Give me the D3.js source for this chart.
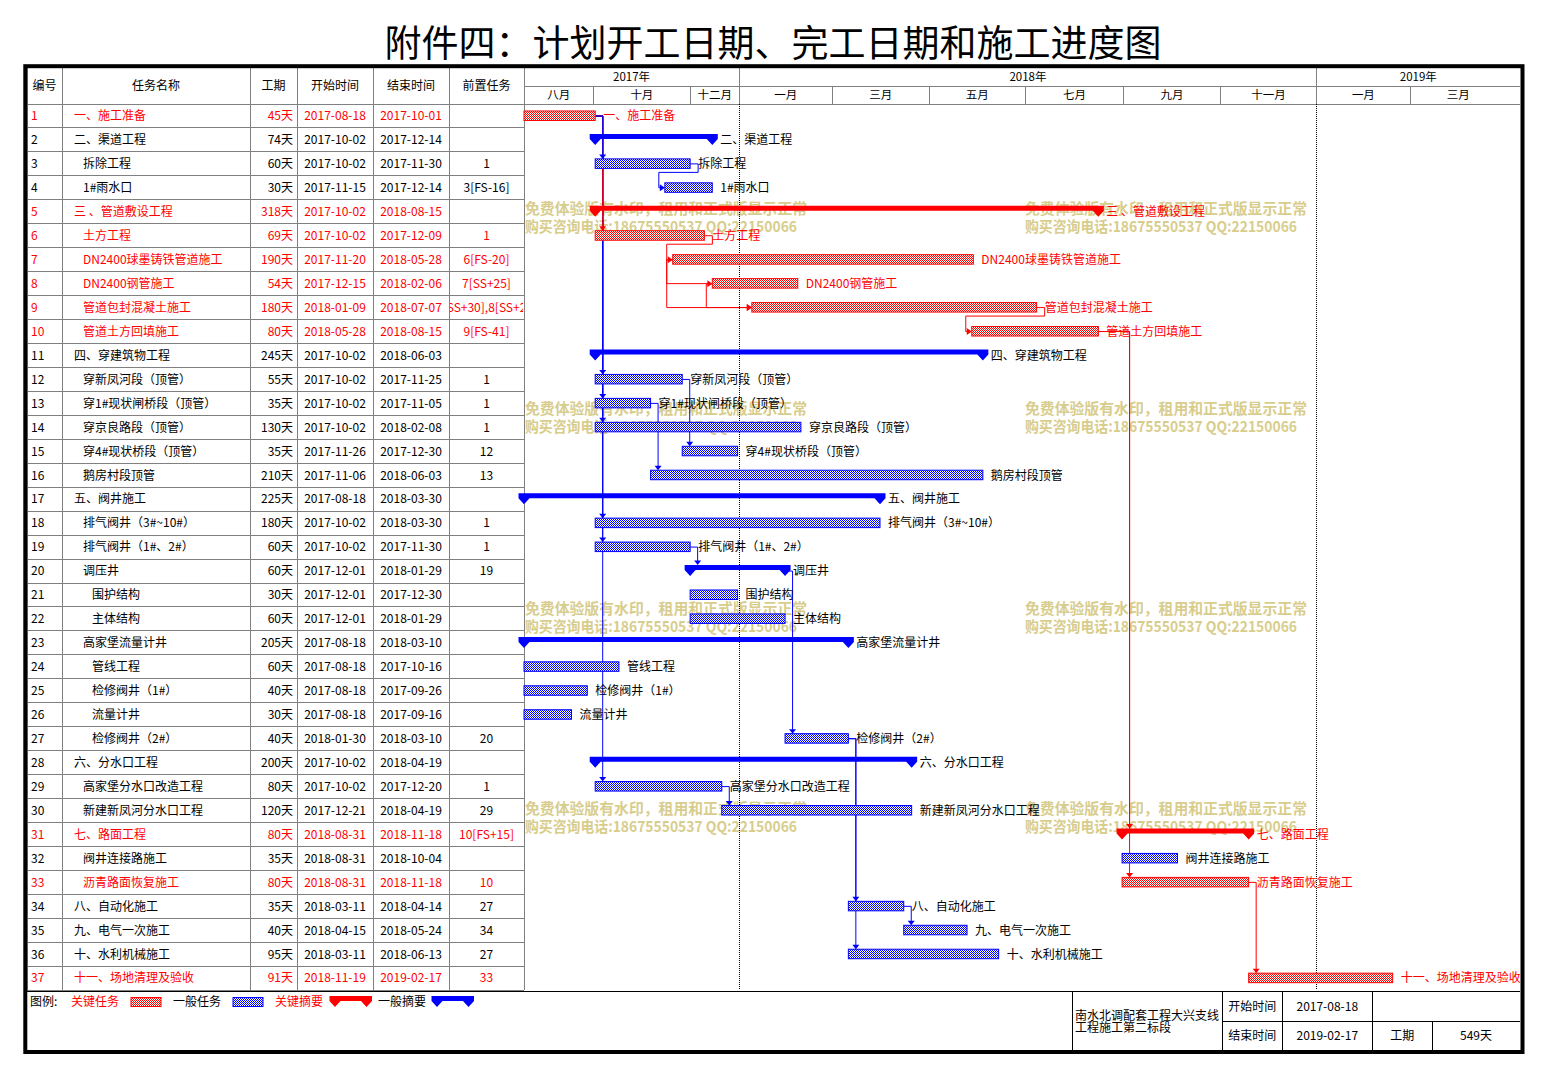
<!DOCTYPE html>
<html><head><meta charset="utf-8">
<script src="https://cdn.jsdelivr.net/npm/d3@7"></script>
<style>
body{margin:0;background:#fff;}
svg{display:block;}
text{font-family:"Noto Sans CJK SC","Noto Sans",sans-serif;}
</style>
</head><body>
<svg id="c" width="1546" height="1076"></svg>
<script>
// ---------------- DATA ----------------
const titleText = "附件四：计划开工日期、完工日期和施工进度图";
const headers = ["编号","任务名称","工期","开始时间","结束时间","前置任务"];
const names = ["一、施工准备","二、渠道工程","拆除工程","1#雨水口","三 、管道敷设工程","土方工程","DN2400球墨铸铁管道施工","DN2400钢管施工","管道包封混凝土施工","管道土方回填施工",
 "四、穿建筑物工程","穿新凤河段（顶管）","穿1#现状闸桥段（顶管）","穿京良路段（顶管）","穿4#现状桥段（顶管）","鹅房村段顶管",
 "五、阀井施工","排气阀井（3#~10#）","排气阀井（1#、2#）","调压井","围护结构","主体结构","高家堡流量计井","管线工程","检修阀井（1#）","流量计井","检修阀井（2#）",
 "六、分水口工程","高家堡分水口改造工程","新建新凤河分水口工程","七、路面工程","阀井连接路施工","沥青路面恢复施工","八、自动化施工","九、电气一次施工","十、水利机械施工","十一、场地清理及验收"];
const levels = [1,1,2,2,1,2,2,2,2,2, 1,2,2,2,2,2, 1,2,2,2,3,3,2,3,3,3,3, 1,2,2,1,2,2,1,1,1,1];
const durations = [45,74,60,30,318,69,190,54,180,80,245,55,35,130,35,210,225,180,60,60,30,60,205,60,40,30,40,200,80,120,80,35,80,35,40,95,91];
const starts = ["2017-08-18","2017-10-02","2017-10-02","2017-11-15","2017-10-02","2017-10-02","2017-11-20","2017-12-15","2018-01-09","2018-05-28",
 "2017-10-02","2017-10-02","2017-10-02","2017-10-02","2017-11-26","2017-11-06",
 "2017-08-18","2017-10-02","2017-10-02","2017-12-01","2017-12-01","2017-12-01","2017-08-18","2017-08-18","2017-08-18","2017-08-18","2018-01-30",
 "2017-10-02","2017-10-02","2017-12-21","2018-08-31","2018-08-31","2018-08-31","2018-03-11","2018-04-15","2018-03-11","2018-11-19"];
const ends = ["2017-10-01","2017-12-14","2017-11-30","2017-12-14","2018-08-15","2017-12-09","2018-05-28","2018-02-06","2018-07-07","2018-08-15",
 "2018-06-03","2017-11-25","2017-11-05","2018-02-08","2017-12-30","2018-06-03",
 "2018-03-30","2018-03-30","2017-11-30","2018-01-29","2017-12-30","2018-01-29","2018-03-10","2017-10-16","2017-09-26","2017-09-16","2018-03-10",
 "2018-04-19","2017-12-20","2018-04-19","2018-11-18","2018-10-04","2018-11-18","2018-04-14","2018-05-24","2018-06-13","2019-02-17"];
const preds = ["","","1","3[FS-16]","","1","6[FS-20]","7[SS+25]","7[SS+30],8[SS+25]","9[FS-41]",
 "","1","1","1","12","13",
 "","1","1","19","","","","","","","20",
 "","1","29","10[FS+15]","","10","27","34","27","33"];
const criticalIds = [1,5,6,7,8,9,10,31,33,37];
const summaryIds = [2,5,11,17,20,23,28,31];
const yearTicks = ["2017-01-01","2018-01-01","2019-01-01"];
const yearLabels = ["2017年","2018年","2019年"];
const monthTicks = ["2017-08-01","2017-10-01","2017-12-01","2018-01-01","2018-03-01","2018-05-01","2018-07-01","2018-09-01","2018-11-01","2019-01-01","2019-03-01"];
const monthLabels = ["八月","十月","十二月","一月","三月","五月","七月","九月","十一月","一月","三月"];
const legendLabels = ["关键任务","一般任务","关键摘要","一般摘要"];
const projectName = ["南水北调配套工程大兴支线","工程施工第二标段"];
const infoLabels = ["开始时间","结束时间","工期"];
const projectStart = "2017-08-18", projectEnd = "2019-02-17", projectDuration = "549天";
const watermark = ["免费体验版有水印，租用和正式版显示正常","购买咨询电话:18675550537 QQ:22150066"];

// ---------------- LAYOUT ----------------
const RED="#ff0000", BLUE="#0000ff", GRAY="#808080";
const svg = d3.select("#c");
const parse = d3.utcParse("%Y-%m-%d");
const headTop=68, headMid=86, headBot=104, rowH=23.95, nRows=names.length, bodyBot=headBot+rowH*nRows;
const colX=[27,62,250,297,373,449,524];
const chartL=524, chartR=1520;
const x = d3.scaleUtc().domain([parse("2017-08-18"), parse("2019-01-01")]).range([524,1316.7]);
const dayAfter = d => d3.utcDay.offset(parse(d),1);
const cy = i => headBot + rowH*(i+0.5);

const tasks = names.map((n,i)=>({
  id:i+1, name:n, level:levels[i], dur:durations[i], start:starts[i], end:ends[i], pred:preds[i],
  crit:criticalIds.includes(i+1), summ:summaryIds.includes(i+1),
  xs:x(parse(starts[i])), xe:x(dayAfter(ends[i])), c:cy(i)
}));

const defs = svg.append("defs");
function pat(id,color){
  const p=defs.append("pattern").attr("id",id).attr("patternUnits","userSpaceOnUse").attr("width",2).attr("height",2);
  p.append("rect").attr("width",2).attr("height",2).attr("fill","#fff");
  p.append("rect").attr("width",1).attr("height",1).attr("fill",color);
  p.append("rect").attr("x",1).attr("y",1).attr("width",1).attr("height",1).attr("fill",color);
}
pat("pr",RED); pat("pb",BLUE);
defs.append("clipPath").attr("id","chartClip").append("rect").attr("x",514).attr("y",headBot).attr("width",chartR-514).attr("height",bodyBot-headBot);
defs.append("clipPath").attr("id","headClip").append("rect").attr("x",chartL).attr("y",headTop).attr("width",chartR-chartL).attr("height",headBot-headTop);
colX.slice(0,-1).forEach((cx,k)=>{
  defs.append("clipPath").attr("id","col"+k).append("rect").attr("x",cx+1).attr("y",headBot).attr("width",colX[k+1]-cx-2).attr("height",bodyBot-headBot);
});

// Title
svg.append("text").attr("x",773).attr("y",56.5).attr("text-anchor","middle").attr("font-size",37).attr("fill","#000").text(titleText);

// ---------------- TABLE ----------------
const grid = svg.append("g").attr("stroke",GRAY).attr("stroke-width",1).attr("shape-rendering","crispEdges");
for(let i=0;i<=nRows;i++){ const yy=headBot+i*rowH; grid.append("line").attr("x1",27).attr("x2",chartL).attr("y1",yy).attr("y2",yy); }
colX.forEach(cx=>grid.append("line").attr("x1",cx).attr("x2",cx).attr("y1",headTop).attr("y2",bodyBot));
grid.append("line").attr("x1",chartL).attr("x2",chartR).attr("y1",headMid).attr("y2",headMid);
grid.append("line").attr("x1",chartL).attr("x2",chartR).attr("y1",headBot).attr("y2",headBot);

const hdr = svg.append("g").attr("font-size",12).attr("fill","#000").attr("text-anchor","middle");
headers.forEach((h,k)=>hdr.append("text").attr("x",(colX[k]+colX[k+1])/2).attr("y",86+4.3).text(h));

const rows = svg.append("g").attr("font-size",12);
tasks.forEach((t,i)=>{
  const col = t.crit?RED:"#000", yy=t.c+4.3;
  rows.append("text").attr("x",31).attr("y",yy).attr("fill",col).text(t.id);
  rows.append("text").attr("x",65+9*t.level).attr("y",yy).attr("fill",col).attr("clip-path","url(#col1)").text(t.name);
  rows.append("text").attr("x",293).attr("y",yy).attr("text-anchor","end").attr("fill",col).text(t.dur+"天");
  rows.append("text").attr("x",(colX[3]+colX[4])/2).attr("y",yy).attr("text-anchor","middle").attr("fill",col).text(t.start);
  rows.append("text").attr("x",(colX[4]+colX[5])/2).attr("y",yy).attr("text-anchor","middle").attr("fill",col).text(t.end);
  rows.append("text").attr("x",(colX[5]+colX[6])/2).attr("y",yy).attr("text-anchor","middle").attr("fill",col).attr("clip-path","url(#col5)").text(t.pred);
});

// ---------------- TIMELINE HEADER ----------------
const th = svg.append("g").attr("clip-path","url(#headClip)");
const yEnd = parse("2020-01-01");
yearTicks.forEach((d,k)=>{
  const a=Math.max(chartL,x(parse(d))), b=Math.min(chartR, k<yearTicks.length-1?x(parse(yearTicks[k+1])):x(yEnd));
  th.append("text").attr("x",(a+b)/2).attr("y",77+4.2).attr("text-anchor","middle").attr("font-size",11.5).text(yearLabels[k]);
  const xx=x(parse(d));
  if(xx>chartL && xx<chartR) th.append("line").attr("x1",xx).attr("x2",xx).attr("y1",headTop).attr("y2",headBot).attr("stroke",GRAY).attr("shape-rendering","crispEdges");
});
monthTicks.forEach((d,k)=>{
  const xx=x(parse(d));
  const nxt = k<monthTicks.length-1 ? x(parse(monthTicks[k+1])) : x(d3.utcMonth.offset(parse(d),2));
  const a=Math.max(chartL,xx), b=Math.min(chartR,nxt);
  th.append("text").attr("x",(a+b)/2).attr("y",95+4.2).attr("text-anchor","middle").attr("font-size",11.5).text(monthLabels[k]);
  if(xx>chartL && xx<chartR) th.append("line").attr("x1",xx).attr("x2",xx).attr("y1",headMid).attr("y2",headBot).attr("stroke",GRAY).attr("shape-rendering","crispEdges");
});

// ---------------- CHART BODY ----------------
const body = svg.append("g").attr("clip-path","url(#chartClip)");
// watermark (under marks)
const wm = body.append("g").attr("fill","#d8cd8c").attr("font-weight","bold").attr("font-size",15);
[525,1025].forEach(wx=>[208,408,608,808].forEach(wy=>{
  wm.append("text").attr("x",wx).attr("y",wy+5.5).attr("textLength",282).attr("lengthAdjust","spacingAndGlyphs").text(watermark[0]);
  wm.append("text").attr("x",wx).attr("y",wy+18+5.5).attr("textLength",272).attr("lengthAdjust","spacingAndGlyphs").text(watermark[1]);
}));
// year dotted lines
yearTicks.slice(1).forEach(d=>{
  const xx=x(parse(d));
  body.append("line").attr("x1",xx).attr("x2",xx).attr("y1",headBot).attr("y2",bodyBot).attr("stroke","#000").attr("stroke-dasharray","1,1").attr("shape-rendering","crispEdges");
});

// links
const links=[];
tasks.forEach(t=>{
  if(!t.pred) return;
  t.pred.split(",").forEach(p=>{
    const m=p.match(/^(\d+)(?:\[(FS|SS)([+-]\d+)\])?$/);
    if(!m) return;
    links.push({from:tasks[+m[1]-1], to:t, type:m[2]||"FS"});
  });
});
const barTop = t => t.summ ? t.c-6 : t.c-5;
const lg = body.append("g");
links.slice().reverse().forEach(L=>{
  const p=L.from, s=L.to, col=(p.crit&&s.crit)?RED:BLUE;
  let path, arrow;
  if(L.type==="SS"){
    path=`M${p.xs},${p.c}H${p.xs-6}V${s.c}H${s.xs-4}`;
    arrow=[[s.xs-5,s.c-3.5],[s.xs-5,s.c+3.5],[s.xs,s.c]];
  } else if(s.xs >= p.xe-0.5){
    const vx=Math.max(p.xe,s.xs)+7.5, tp=barTop(s);
    path=`M${p.xe},${p.c}H${vx}V${tp-3}`;
    arrow=[[vx-3.5,tp-4.5],[vx+3.5,tp-4.5],[vx,tp]];
  } else {
    path=`M${p.xe},${p.c}H${p.xe+8}V${p.c+8.5}H${s.xs-6}V${s.c}H${s.xs-4}`;
    arrow=[[s.xs-5,s.c-3.5],[s.xs-5,s.c+3.5],[s.xs,s.c]];
  }
  lg.append("path").attr("d",path).attr("fill","none").attr("stroke",col).attr("stroke-width",1);
  lg.append("polygon").attr("points",arrow.map(a=>a.join(",")).join(" ")).attr("fill",col);
});

// bars
const bars = body.append("g");
function summaryPath(x1,x2,c){
  const tri = xx=>`M${xx-5.5},${c-1}L${xx+5.5},${c-1}L${xx},${c+5}Z`;
  return `M${x1-5.5},${c-6}H${x2+5.5}V${c-1}H${x1-5.5}Z`+tri(x1)+tri(x2);
}
tasks.forEach(t=>{
  const col=t.crit?RED:BLUE;
  if(t.summ){
    bars.append("path").attr("d",summaryPath(t.xs,t.xe,t.c)).attr("fill",col);
  } else {
    bars.append("rect").attr("x",t.xs).attr("y",t.c-5).attr("width",t.xe-t.xs).attr("height",9.5)
      .attr("fill",t.crit?"url(#pr)":"url(#pb)").attr("stroke",col).attr("stroke-width",1);
  }
  bars.append("text").attr("x",t.xe+8).attr("y",t.c+4.3).attr("font-size",12).attr("fill",t.crit?RED:"#000").text(t.name.trim());
});

// ---------------- LEGEND & INFO ----------------
const legY=1001.5;
const leg = svg.append("g").attr("font-size",12);
leg.append("text").attr("x",30).attr("y",legY+4.3).text("图例:");
leg.append("text").attr("x",71).attr("y",legY+4.3).attr("fill",RED).text(legendLabels[0]);
leg.append("rect").attr("x",131).attr("y",997.5).attr("width",30).attr("height",9).attr("fill","url(#pr)").attr("stroke",RED);
leg.append("text").attr("x",173).attr("y",legY+4.3).text(legendLabels[1]);
leg.append("rect").attr("x",233).attr("y",997.5).attr("width",30).attr("height",9).attr("fill","url(#pb)").attr("stroke",BLUE);
leg.append("text").attr("x",275).attr("y",legY+4.3).attr("fill",RED).text(legendLabels[2]);
leg.append("path").attr("d",summaryPath(335,366.5,1002)).attr("fill",RED);
leg.append("text").attr("x",378).attr("y",legY+4.3).text(legendLabels[3]);
leg.append("path").attr("d",summaryPath(437,468.5,1002)).attr("fill",BLUE);

const info = svg.append("g").attr("stroke","#000").attr("stroke-width",1).attr("shape-rendering","crispEdges");
info.append("line").attr("x1",27).attr("x2",chartR).attr("y1",991.5).attr("y2",991.5).attr("stroke-width",1.5);
[1072.3,1222.3,1282.3,1372.3].forEach(vx=>info.append("line").attr("x1",vx).attr("x2",vx).attr("y1",991.5).attr("y2",1050));
info.append("line").attr("x1",1432.3).attr("x2",1432.3).attr("y1",1021.7).attr("y2",1050);
info.append("line").attr("x1",1222.3).attr("x2",chartR).attr("y1",1021.7).attr("y2",1021.7);
const it = svg.append("g").attr("font-size",12);
it.append("text").attr("x",1075).attr("y",1016+4.3).text(projectName[0]);
it.append("text").attr("x",1075).attr("y",1028+4.3).text(projectName[1]);
it.append("text").attr("x",1252.3).attr("y",1006.7+4.3).attr("text-anchor","middle").text(infoLabels[0]);
it.append("text").attr("x",1327.3).attr("y",1006.7+4.3).attr("text-anchor","middle").text(projectStart);
it.append("text").attr("x",1252.3).attr("y",1036+4.3).attr("text-anchor","middle").text(infoLabels[1]);
it.append("text").attr("x",1327.3).attr("y",1036+4.3).attr("text-anchor","middle").text(projectEnd);
it.append("text").attr("x",1402.3).attr("y",1036+4.3).attr("text-anchor","middle").text(infoLabels[2]);
it.append("text").attr("x",1476).attr("y",1036+4.3).attr("text-anchor","middle").text(projectDuration);

// outer frame
svg.append("rect").attr("x",25.3).attr("y",66.2).attr("width",1522.5-25.3).attr("height",1052-66.2)
  .attr("fill","none").attr("stroke","#000").attr("stroke-width",4);
</script>
</body></html>
